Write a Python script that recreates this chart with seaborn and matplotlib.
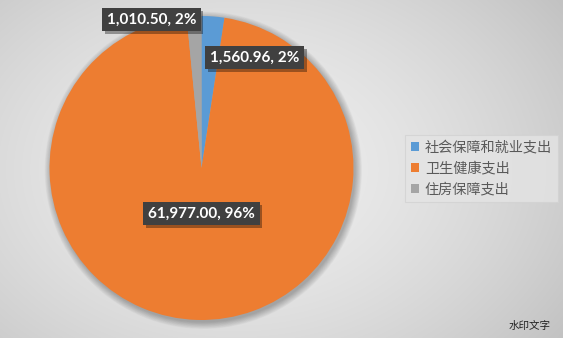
import numpy as np
import matplotlib
matplotlib.use("Agg")
import matplotlib.pyplot as plt
import matplotlib.patheffects as pe
from matplotlib.patches import Circle
import seaborn as sns

# Expenditure categories and amounts
categories = ["社会保障和就业支出", "卫生健康支出", "住房保障支出"]
values = [1560.96, 61977.00, 1010.50]
value_labels = ["1,560.96", "61,977.00", "1,010.50"]

sns.set_theme(style="white")
plt.rcParams["font.family"] = ["Noto Sans CJK SC", "DejaVu Sans"]

colors = sns.color_palette(["#5B9BD5", "#ED7D31", "#A5A5A5"])

W, H = 563, 338
fig = plt.figure(figsize=(W / 100, H / 100), dpi=100)

# Radial grey gradient background
bg = fig.add_axes([0, 0, 1, 1], zorder=0)
yy, xx = np.mgrid[0:H, 0:W]
cx, cy = W * 0.42, H * 0.5
d = np.sqrt(((xx - cx) / (W * 0.62)) ** 2 + ((yy - cy) / (H * 0.75)) ** 2)
shade = np.clip(0.935 - 0.14 * d ** 1.6, 0, 1)
bg.imshow(np.dstack([shade] * 3), aspect="auto", extent=[0, 1, 0, 1])
bg.set_axis_off()

# Pie axes: centre (201.5, 168) px, radius 152 px
r = 152
ax = fig.add_axes([(201.5 - r) / W, (H - 168 - r) / H, 2 * r / W, 2 * r / H], zorder=1)
ax.set_aspect("equal")
ax.set_axis_off()
ax.patch.set_alpha(0)

# soft shadow under the pie
for i in range(12):
    ax.add_patch(Circle((0.012, -0.015), 1.0 + 0.004 * i, color="black",
                        alpha=0.022, lw=0, zorder=0, clip_on=False))

wedges, _ = ax.pie(values, colors=colors, startangle=90, counterclock=False,
                   radius=1.0, wedgeprops=dict(linewidth=0), frame=False)
for w in wedges:
    w.set_zorder(2)
    w.set_clip_on(False)
ax.set_xlim(-1.0, 1.0)
ax.set_ylim(-1.0, 1.0)

total = sum(values)
label_pos = [(0.35, 0.725), (0.0, -0.30), (-0.33, 0.975)]
for val, txt, (lx, ly) in zip(values, value_labels, label_pos):
    pct = round(val / total * 100)
    t = ax.text(lx, ly, f"{txt}, {pct}%", ha="center", va="center",
                color="white", fontsize=11, fontweight="bold",
                family=["Lato", "DejaVu Sans"], zorder=5,
                bbox=dict(boxstyle="square,pad=0.3", facecolor="#404040",
                          edgecolor="none"))
    t.get_bbox_patch().set_path_effects([
        pe.SimplePatchShadow(offset=(2, -2), shadow_rgbFace="black", alpha=0.35),
        pe.Normal()])

leg = fig.legend(wedges, categories, loc="center left",
                 bbox_to_anchor=(405 / W, 1 - 168.5 / H),
                 frameon=True, fancybox=False, fontsize=10.2,
                 handlelength=0.6, handleheight=0.6, handletextpad=0.4,
                 labelspacing=0.5, borderpad=0.4, borderaxespad=0,
                 labelcolor="#595959")
leg.get_frame().set_facecolor("#e4e4e4")
leg.get_frame().set_edgecolor("#d2d2d2")
leg.get_frame().set_linewidth(0.8)
leg.set_zorder(3)

fig.text(551 / W, 1 - 326 / H, "水印文字", ha="right", va="center",
         fontsize=7.6, color="#222222")

fig.savefig("out.png", dpi=100)
